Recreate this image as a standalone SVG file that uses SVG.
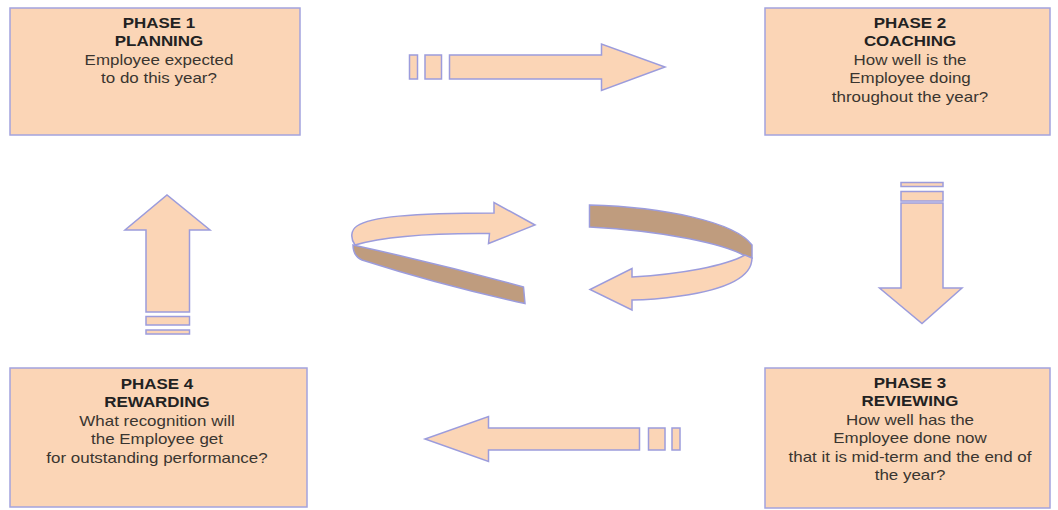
<svg xmlns="http://www.w3.org/2000/svg" width="1058" height="510" viewBox="0 0 1058 510">
<style>
.box{fill:#FBD5B6;stroke:#A3A3DE;stroke-width:1.5}
.shape{fill:#FBD5B6;stroke:#9C9CDC;stroke-width:1.5;stroke-linejoin:miter}
.dark{fill:#BF9C7E;stroke:#9C9CDC;stroke-width:1.5}
text{font-family:"Liberation Sans",Arial,sans-serif;font-size:15px;fill:#3a3530;text-anchor:middle}
.t{font-weight:bold;fill:#222}
</style>
<rect width="1058" height="510" fill="#fff"/>
<g id="phase1">
<rect class="box" x="10" y="8" width="290" height="127"/>
<g transform="translate(159,0) scale(1.13,1)">
<text class="t" x="0" y="28">PHASE 1</text>
<text class="t" x="0" y="46.5">PLANNING</text>
<text x="0" y="65">Employee expected</text>
<text x="0" y="83.5">to do this year?</text>
</g>
</g>
<g id="phase2">
<rect class="box" x="765" y="8" width="285" height="127"/>
<g transform="translate(910,0) scale(1.13,1)">
<text class="t" x="0" y="28">PHASE 2</text>
<text class="t" x="0" y="46.5">COACHING</text>
<text x="0" y="65">How well is the</text>
<text x="0" y="83.5">Employee doing</text>
<text x="0" y="102">throughout the year?</text>
</g>
</g>
<g id="phase3">
<rect class="box" x="765" y="368" width="285" height="140"/>
<g transform="translate(910,0) scale(1.13,1)">
<text class="t" x="0" y="388">PHASE 3</text>
<text class="t" x="0" y="406.5">REVIEWING</text>
<text x="0" y="425">How well has the</text>
<text x="0" y="443.5">Employee done now</text>
<text x="0" y="462">that it is mid-term and the end of</text>
<text x="0" y="480.5">the year?</text>
</g>
</g>
<g id="phase4">
<rect class="box" x="10" y="368" width="297" height="139"/>
<g transform="translate(157,0) scale(1.13,1)">
<text class="t" x="0" y="389">PHASE 4</text>
<text class="t" x="0" y="407.5">REWARDING</text>
<text x="0" y="426">What recognition will</text>
<text x="0" y="444.5">the Employee get</text>
<text x="0" y="463">for outstanding performance?</text>
</g>
</g>
<g id="connectors">
<g id="arrow-top">
<rect class="shape" x="409.5" y="55" width="8" height="24"/>
<rect class="shape" x="425" y="55" width="16.5" height="24"/>
<path class="shape" d="M449.5,55 L601.5,55 L601.5,44 L665,67 L601.5,90.5 L601.5,79 L449.5,79 Z"/>
</g>
<g id="arrow-right">
<rect class="shape" x="901" y="182.5" width="42" height="4"/>
<rect class="shape" x="901" y="191.5" width="42" height="9.5"/>
<path class="shape" d="M901,203 L943,203 L943,288 L962,288 L922,323.5 L879.5,288 L901,288 Z"/>
</g>
<g id="arrow-bottom">
<rect class="shape" x="648.5" y="428" width="16.5" height="22"/>
<rect class="shape" x="672" y="428" width="8" height="22"/>
<path class="shape" d="M639.5,428 L488.5,428 L488.5,416.5 L425,439 L488.5,461.5 L488.5,450 L639.5,450 Z"/>
</g>
<g id="arrow-left">
<path class="shape" d="M146,312 L146,230 L125,230 L167,195 L210,230 L189.5,230 L189.5,312 Z"/>
<rect class="shape" x="146" y="316.5" width="43.5" height="8.5"/>
<rect class="shape" x="146" y="330" width="43.5" height="4"/>
</g>
<g id="cycle-left">
<path class="dark" d="M353,245 Q440,264 523.5,287 L525,303.5 Q440,285 362,260 Q353,256 353,245 Z"/>
<path class="shape" d="M494,213 L494,202.5 L535,225 L488.5,243.5 L489.5,233.5 C430,233 385,236 355,245 C350,238 351,230 357,226 C370,217 410,213 494,213 Z"/>
</g>
<g id="cycle-right">
<path class="dark" d="M589.5,205 C665,207 735,222 752,245 L752,258 L745,256 C725,244 665,231 589.5,227 Z"/>
<path class="shape" d="M752,258 C752,276 730,289 680,296 C660,299 645,300 632,300 L632,310 L590,289.5 L632,268.5 L632,277 C682,274 725,266 745,255 Z"/>
</g>
</g>
</svg>
